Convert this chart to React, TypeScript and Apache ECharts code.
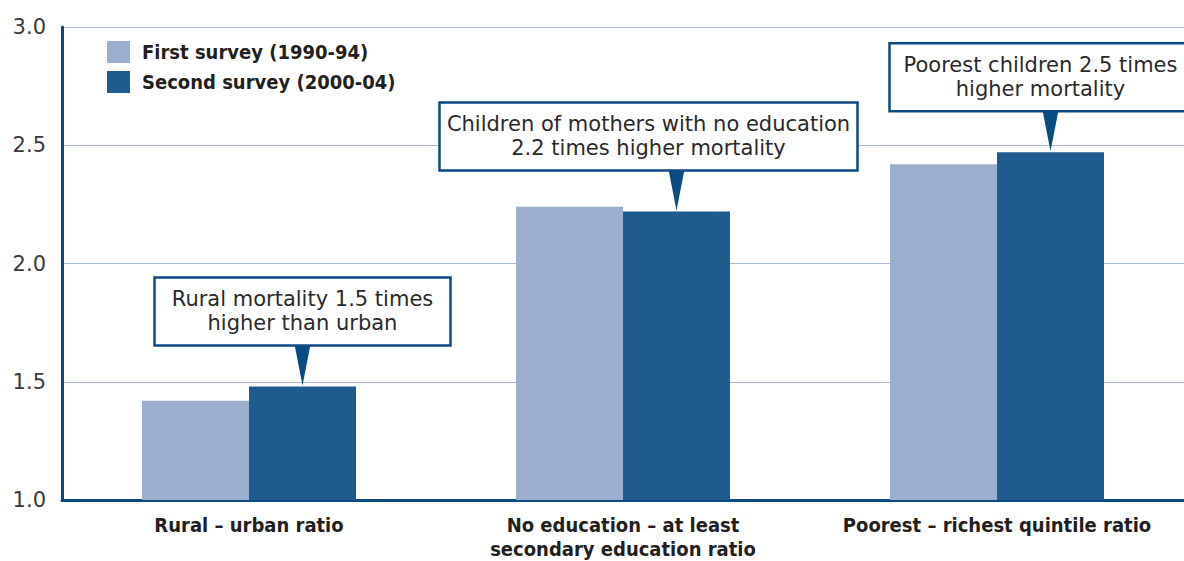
import React, { useEffect, useRef } from "react";
import * as echarts from "echarts";

const categories = [
  "Rural – urban ratio",
  "No education – at least\nsecondary education ratio",
  "Poorest – richest quintile ratio",
];
const seriesNames = ["First survey (1990-94)", "Second survey (2000-04)"];
const firstSurvey = [1.42, 2.24, 2.42];
const secondSurvey = [1.48, 2.22, 2.47];
const yMin = 1.0;
const yMax = 3.0;
const yInterval = 0.5;
const annotationTexts = [
  "Rural mortality 1.5 times\nhigher than urban",
  "Children of mothers with no education\n2.2 times higher mortality",
  "Poorest children 2.5 times\nhigher mortality",
];

const BAR_W = 107;
const BOX_W = [296, 418, 302];
const BOX_SHIFT = [0, -28, -10];
const BOX_H = 68;
const POINTER_LEN = 40;
const BLUE = "#0c4a82";
const LIGHT = "#9caecd";
const DARK = "#1f5b8f";
const BOLD_FONT = "'DejaVu Sans Condensed', 'Liberation Sans Narrow', sans-serif";
const REG_FONT = "'DejaVu Sans', sans-serif";

export default function App() {
  const ref = useRef<HTMLDivElement>(null);
  useEffect(() => {
    if (!ref.current) return;
    const chart = echarts.init(ref.current, null, { renderer: "svg" });
    chart.setOption({
      animation: false,
      grid: { left: 62, right: 0, top: 27, bottom: 60, containLabel: false },
      legend: {
        orient: "vertical",
        left: 107,
        top: 41,
        padding: 0,
        itemWidth: 23,
        itemHeight: 22,
        itemGap: 8,
        icon: "rect",
        selectedMode: false,
        textStyle: {
          fontFamily: BOLD_FONT,
          fontWeight: "bold",
          fontSize: 20,
          color: "#231f20",
          padding: [0, 0, 0, 7],
        },
        data: seriesNames,
      },
      xAxis: {
        type: "category",
        data: categories,
        axisLine: { show: true, lineStyle: { color: BLUE, width: 3 } },
        axisTick: { show: false },
        axisLabel: {
          interval: 0,
          margin: 13,
          fontFamily: BOLD_FONT,
          fontWeight: "bold",
          fontSize: 20,
          lineHeight: 24,
          color: "#231f20",
        },
      },
      yAxis: {
        type: "value",
        min: yMin,
        max: yMax,
        interval: yInterval,
        axisLine: { show: true, lineStyle: { color: BLUE, width: 3 } },
        axisTick: { show: false },
        splitLine: { show: true, lineStyle: { color: "#a9b9d9", width: 1 } },
        axisLabel: {
          margin: 16,
          fontFamily: REG_FONT,
          fontSize: 21,
          color: "#3a3a3a",
          formatter: (v: number) => v.toFixed(1),
        },
      },
      series: [
        {
          name: seriesNames[0],
          type: "bar",
          data: firstSurvey,
          barWidth: BAR_W,
          barGap: "0%",
          itemStyle: { color: LIGHT },
        },
        {
          name: seriesNames[1],
          type: "bar",
          data: secondSurvey,
          barWidth: BAR_W,
          barGap: "0%",
          itemStyle: { color: DARK },
        },
      ],
    });

    const graphics: any[] = [];
    annotationTexts.forEach((txt, i) => {
      const p = chart.convertToPixel({ xAxisIndex: 0, yAxisIndex: 0 }, [i, secondSurvey[i]]) as number[];
      const tipX = p[0] + BAR_W / 2;
      const tipY = p[1] - 1;
      const boxBottom = tipY - POINTER_LEN;
      const boxTop = boxBottom - BOX_H;
      const cx = tipX + BOX_SHIFT[i];
      const left = cx - BOX_W[i] / 2;
      graphics.push({
        type: "group",
        z: 50,
        children: [
          {
            type: "polygon",
            z: 50,
            shape: { points: [[tipX - 8, boxBottom - 1], [tipX + 8, boxBottom - 1], [tipX, tipY]] },
            style: { fill: BLUE },
          },
          {
            type: "rect",
            z: 51,
            shape: { x: left, y: boxTop, width: BOX_W[i], height: BOX_H },
            style: { fill: "#ffffff", stroke: BLUE, lineWidth: 2.5 },
          },
          {
            type: "text",
            z: 52,
            x: cx,
            y: boxTop + BOX_H / 2,
            style: {
              text: txt,
              align: "center",
              verticalAlign: "middle",
              fontFamily: REG_FONT,
              fontSize: 21,
              lineHeight: 24,
              fill: "#2a2a2a",
            },
          },
        ],
      });
    });
    chart.setOption({ graphic: graphics });

    return () => chart.dispose();
  }, []);
  return (
    <div
      ref={ref}
      style={{ position: "absolute", left: 0, top: 0, width: 1184, height: 561, background: "#ffffff" }}
    />
  );
}
